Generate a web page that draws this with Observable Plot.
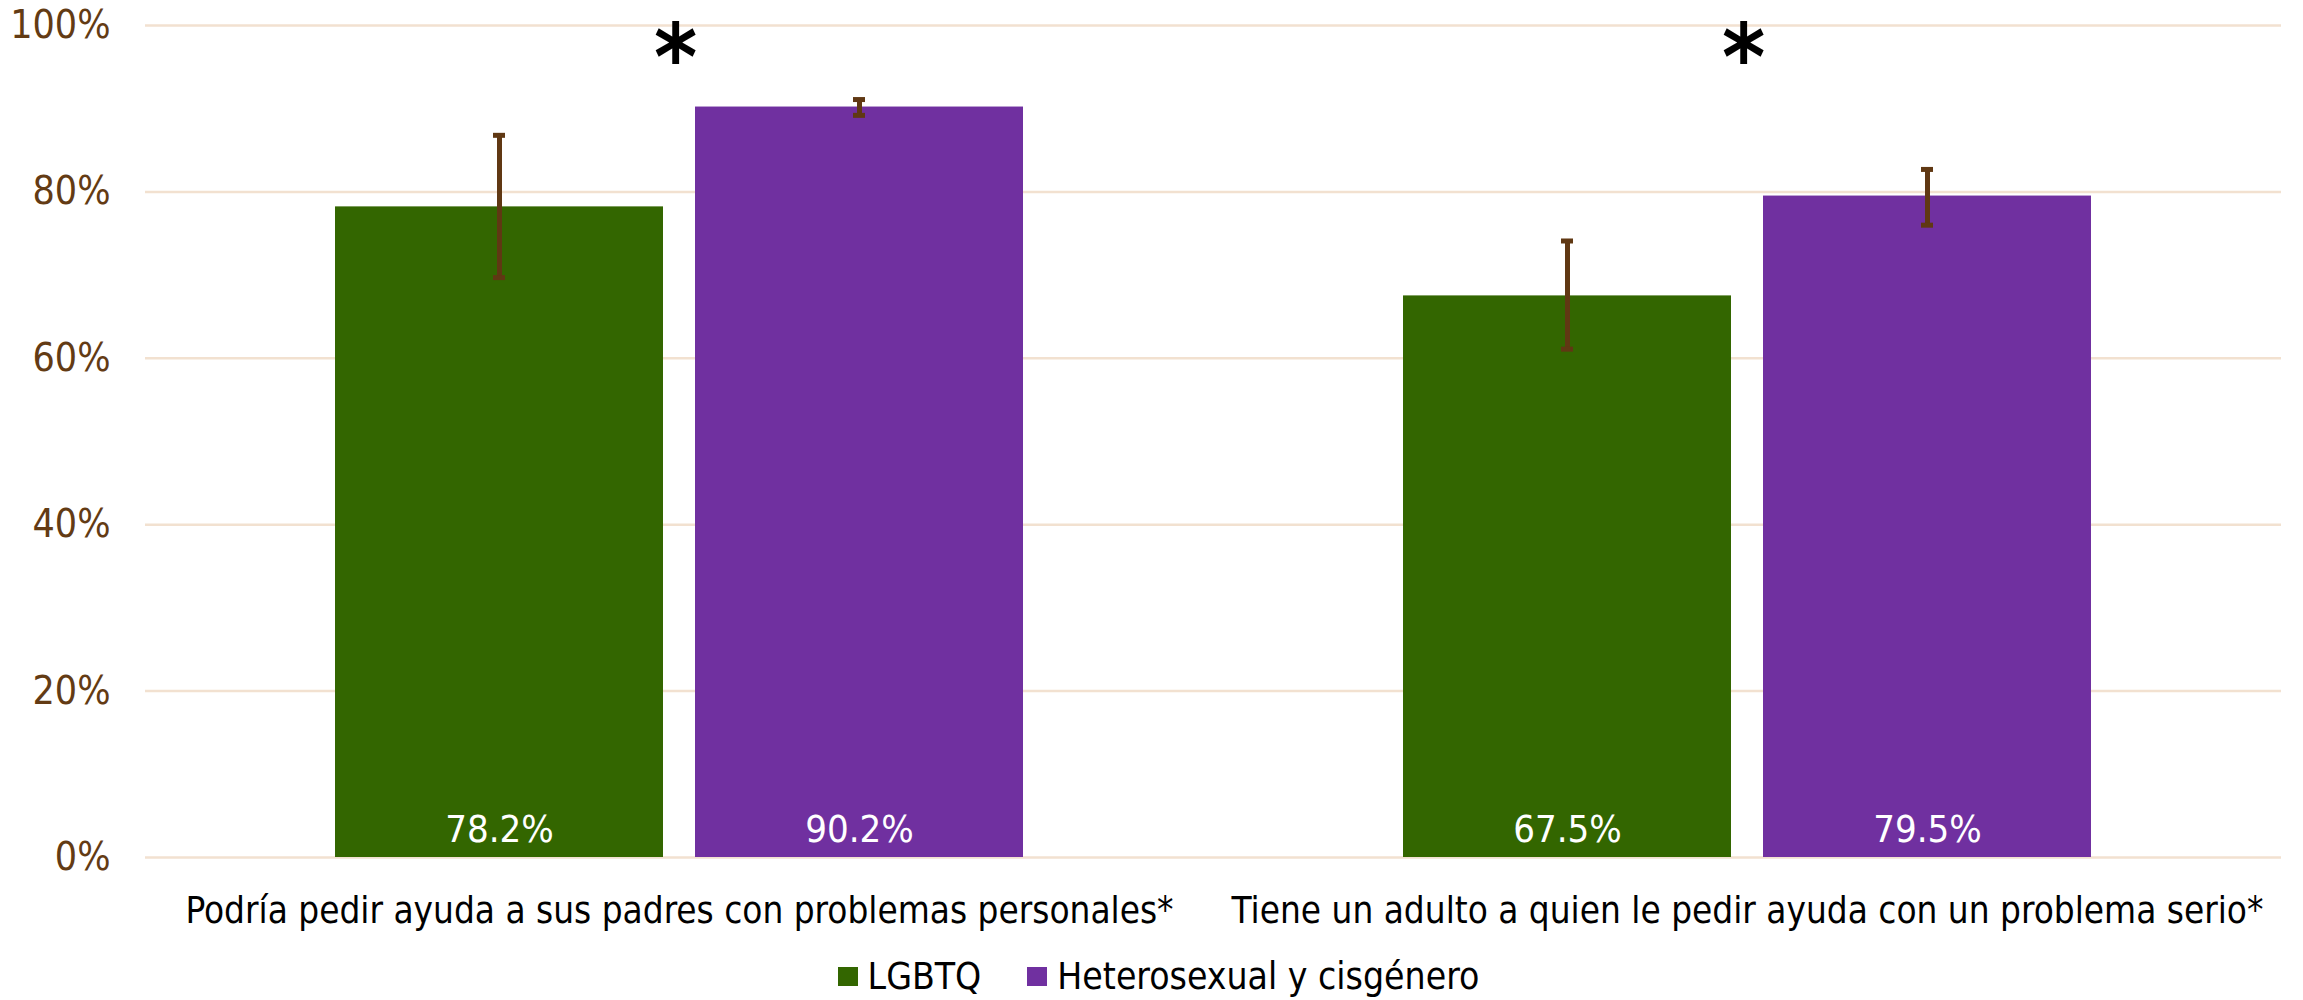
<!DOCTYPE html>
<html>
<head>
<meta charset="utf-8">
<script src="https://cdn.jsdelivr.net/npm/d3@7"></script>
<script src="https://cdn.jsdelivr.net/npm/@observablehq/plot@0.6"></script>
<style>
  html, body { margin: 0; padding: 0; background: #fff; }
  body { width: 2303px; height: 1000px; overflow: hidden; font-family: "DejaVu Sans Condensed", "DejaVu Sans", sans-serif; font-stretch: condensed; }
  #legend { display: flex; justify-content: center; align-items: center; height: 55px; padding-top: 4px; padding-left: 14px; font-size: 37px; color: #000; }
  #legend .item { display: flex; align-items: center; margin: 0 23px; }
  #legend .sw { width: 20px; height: 19px; margin-right: 10px; }
</style>
</head>
<body>
<div id="chart"></div>
<div id="legend"></div>
<script>
const categories = [
  "Podría pedir ayuda a sus padres con problemas personales*",
  "Tiene un adulto a quien le pedir ayuda con un problema serio*"
];
const groups = ["LGBTQ", "Heterosexual y cisgénero"];
const groupColors = ["#336600", "#7030A0"];
const lgbtqValues = [78.2, 67.5];
const lgbtqLow = [69.7, 61.1];
const lgbtqHigh = [86.8, 74.1];
const heteroValues = [90.2, 79.5];
const heteroLow = [89.2, 76.0];
const heteroHigh = [91.1, 82.7];
const significance = ["*", "*"];
const yTicks = [0, 20, 40, 60, 80, 100];

const rows = [];
categories.forEach((c, i) => {
  rows.push({cat: c, group: groups[0], value: lgbtqValues[i], low: lgbtqLow[i], high: lgbtqHigh[i]});
  rows.push({cat: c, group: groups[1], value: heteroValues[i], low: heteroLow[i], high: heteroHigh[i]});
});
const stars = categories.map((c, i) => ({cat: c, mark: significance[i]}));

const FONT = '"DejaVu Sans Condensed", "DejaVu Sans", sans-serif';
const BROWN = "#603813";
const GRID = "#F2E1D0";

const chart = Plot.plot({
  width: 2303,
  height: 945,
  marginTop: 25,
  marginBottom: 88,
  marginLeft: 145,
  marginRight: 22,
  style: {fontFamily: FONT, fontStretch: "condensed", background: "#fff", overflow: "visible"},
  fx: {domain: categories, padding: 0, round: false, label: null},
  x: {domain: groups, paddingInner: 0.0889, paddingOuter: 0.5278, round: false, axis: null},
  y: {domain: [0, 100], label: null, ticks: yTicks},
  color: {domain: groups, range: groupColors},
  marks: [
    Plot.gridY(yTicks, {stroke: GRID, strokeOpacity: 1, strokeWidth: 2.5}),
    Plot.barY(rows, {fx: "cat", x: "group", y: "value", fill: "group"}),
    Plot.ruleX(rows, {fx: "cat", x: "group", y1: "low", y2: "high", stroke: BROWN, strokeWidth: 5}),
    Plot.tickY(rows, {fx: "cat", x: "group", y: "low", stroke: BROWN, strokeWidth: 5, insetLeft: 158, insetRight: 158}),
    Plot.tickY(rows, {fx: "cat", x: "group", y: "high", stroke: BROWN, strokeWidth: 5, insetLeft: 158, insetRight: 158}),
    Plot.text(rows, {fx: "cat", x: "group", y: 0, text: d => d.value.toFixed(1) + "%", fill: "#fff", fontSize: 38, lineAnchor: "bottom", dy: -16}),
    Plot.text(stars, {fx: "cat", y: () => 100, text: "mark", fill: "#000", fontSize: 92, fontWeight: "bold", lineAnchor: "bottom", dy: 64, dx: -4, fontFamily: '"DejaVu Sans", sans-serif'}),
    Plot.axisY(yTicks, {tickSize: 0, tickPadding: 35, tickFormat: d => d + "%", fontSize: 39, fill: "#633B14", color: "#633B14", label: null}),
    Plot.axisFx({anchor: "bottom", tickSize: 0, tickPadding: 39, fontSize: 36.6, fill: "#000", color: "#000", label: null})
  ]
});
document.getElementById("chart").appendChild(chart);

const legend = document.getElementById("legend");
groups.forEach((g, i) => {
  const item = document.createElement("div");
  item.className = "item";
  const sw = document.createElement("div");
  sw.className = "sw";
  sw.style.background = groupColors[i];
  const label = document.createElement("span");
  label.textContent = g;
  item.appendChild(sw);
  item.appendChild(label);
  legend.appendChild(item);
});
</script>
</body>
</html>
